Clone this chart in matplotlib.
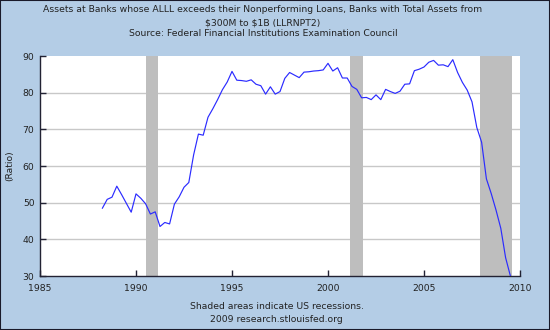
import numpy as np
import matplotlib
matplotlib.use("Agg")
import matplotlib.pyplot as plt

# Quarterly observations, starting 1988 Q2
start_year = 1988.25
ratio = [
    48.5, 50.9, 51.5,                     # 1988
    54.5, 52.2, 49.8, 47.4,               # 1989
    52.4, 51.2, 49.7, 46.9,               # 1990
    47.5, 43.5, 44.6, 44.2,               # 1991
    49.6, 51.6, 54.2, 55.5,               # 1992
    63.0, 68.7, 68.4, 73.3,               # 1993
    75.6, 78.1, 80.8, 82.9,               # 1994
    85.8, 83.4, 83.3, 83.1,               # 1995
    83.5, 82.3, 81.9, 79.6,               # 1996
    81.6, 79.6, 80.3, 83.9,               # 1997
    85.5, 84.8, 84.1, 85.6,               # 1998
    85.7, 85.9, 86.0, 86.2,               # 1999
    88.0, 85.9, 86.8, 84.0,               # 2000
    84.0, 81.7, 80.9, 78.6,               # 2001
    78.7, 78.1, 79.4, 78.1,               # 2002
    80.9, 80.3, 79.8, 80.4,               # 2003
    82.3, 82.4, 86.0, 86.4,               # 2004
    87.0, 88.3, 88.8, 87.5,               # 2005
    87.6, 87.1, 89.0, 85.5,               # 2006
    82.8, 80.7, 77.5, 70.5,               # 2007
    66.5, 56.5, 52.5, 48.0,               # 2008
    43.0, 35.0, 30.0,                     # 2009
]
dates = start_year + 0.25 * np.arange(len(ratio))

# US recessions (start, end) in fractional years
recessions = [(1990.5, 1991.17), (2001.17, 2001.83), (2007.92, 2009.6)]

x_ticks = [1985, 1990, 1995, 2000, 2005, 2010]
y_ticks = [30, 40, 50, 60, 70, 80, 90]

bg = "#b4cde6"
ink = "#222222"
fs = 6.7

fig = plt.figure(figsize=(5.5, 3.3), dpi=100, facecolor=bg)
ax = fig.add_axes([40 / 550, 54 / 330, 480 / 550, 220 / 330])
ax.set_facecolor("white")

for a, b in recessions:
    ax.axvspan(a, b, color="#bebebe", lw=0, zorder=1)

for y in y_ticks[1:-1]:
    ax.axhline(y, color="#c8c8c8", lw=1.0, zorder=0.5)

ax.plot(dates, ratio, color="#2b2bff", lw=0.85, zorder=3)

ax.set_xlim(1985, 2010)
ax.set_ylim(30, 90)
ax.set_xticks(x_ticks)
ax.set_yticks(y_ticks)
ax.tick_params(direction="in", length=4, width=1, color="#222233",
               labelsize=fs, labelcolor=ink)
ax.tick_params(axis="x", pad=6)
ax.tick_params(axis="y", pad=4)
for s in ("top", "right"):
    ax.spines[s].set_visible(False)
for s in ("left", "bottom"):
    ax.spines[s].set_color("#222233")
    ax.spines[s].set_linewidth(1)
ax.set_ylabel("(Ratio)", fontsize=fs, color=ink, labelpad=6)

title_lines = [
    "Assets at Banks whose ALLL exceeds their Nonperforming Loans, Banks with Total Assets from",
    r"\$300M to \$1B (LLRNPT2)",
    "Source: Federal Financial Institutions Examination Council",
]
for line, ypx in zip(title_lines, (10, 22.7, 34)):
    fig.text(263 / 550, 1 - ypx / 330, line, ha="center", va="center",
             fontsize=fs, color=ink)

fig.text(277 / 550, 1 - 306.5 / 330, "Shaded areas indicate US recessions.",
         ha="center", va="center", fontsize=fs, color=ink)
fig.text(276 / 550, 1 - 319 / 330, "2009 research.stlouisfed.org",
         ha="center", va="center", fontsize=fs, color=ink)

# thin dark frame round the figure
frame = plt.Rectangle((0, 0), 1, 1, transform=fig.transFigure, fill=False,
                      edgecolor="#1a1a2a", lw=1.5)
fig.patches.append(frame)

fig.savefig("out.png", dpi=100, facecolor=bg)
